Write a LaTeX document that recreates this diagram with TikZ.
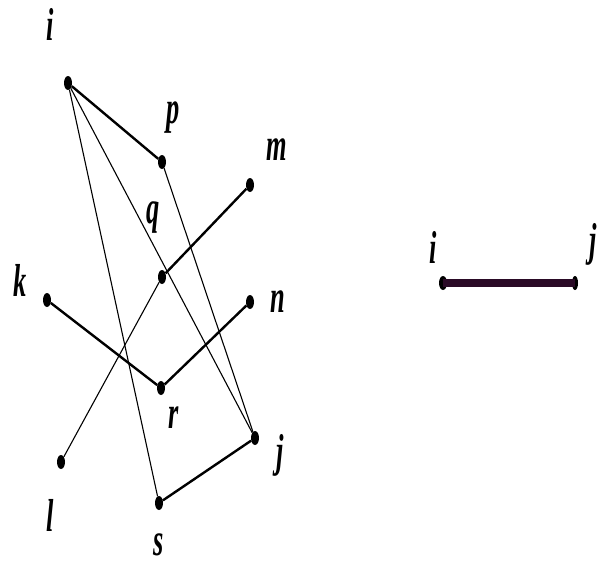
\documentclass[tikz,border=0pt]{standalone}
\usepackage{fontspec}
\setmainfont{Liberation Serif}
\usetikzlibrary{shapes.geometric}
\definecolor{edgepurple}{HTML}{2A0A26}
\tikzset{
  vdot/.style={ellipse,fill=black,draw=none,inner sep=0pt,minimum width=8pt,minimum height=14pt},
  lab/.style={inner sep=0pt,font=\fontsize{44}{44}\selectfont\bfseries\itshape},
  thickedge/.style={line width=2.4pt,black},
  thinedge/.style={line width=1.1pt,black},
  bigedge/.style={line width=8pt,edgepurple}
}
\newcommand{\cond}[1]{\scalebox{0.6}[1.05]{#1}}
\begin{document}
\begin{tikzpicture}[x=1pt,y=-1pt]
\useasboundingbox (0,0) rectangle (609,568);
% vertices
\node[vdot] (i) at (68,83) {};
\node[vdot] (p) at (162,162) {};
\node[vdot] (m) at (250,185) {};
\node[vdot] (q) at (162,277) {};
\node[vdot] (k) at (47,300) {};
\node[vdot] (n) at (250,302) {};
\node[vdot] (r) at (161,388) {};
\node[vdot] (j) at (255,438) {};
\node[vdot] (l) at (61,462) {};
\node[vdot] (s) at (159,503) {};
% labels
\node[lab] (li) at (50,24) {\cond{i}};
\node[lab] (lp) at (173,118) {\cond{p}};
\node[lab] (lm) at (277,150) {\cond{m}};
\node[lab] (lq) at (153,218) {\cond{q}};
\node[lab] (lk) at (20,280) {\cond{k}};
\node[lab] (ln) at (278,302) {\cond{n}};
\node[lab] (lr) at (174,418) {\cond{r}};
\node[lab] (lj) at (280,455) {\cond{j}};
\node[lab] (ll) at (50,515) {\cond{l}};
\node[lab] (ls) at (159,545) {\cond{s}};
% edges
\draw[thickedge] (i) -- (p);
\draw[thickedge] (q) -- (m);
\draw[thickedge] (k) -- (r);
\draw[thickedge] (r) -- (n);
\draw[thickedge] (s) -- (j);
\draw[thinedge] (i) -- (s);
\draw[thinedge] (i) -- (j);
\draw[thinedge] (p) -- (j);
\draw[thinedge] (q) -- (l);
% right part
\node[vdot] (ri) at (443,283) {};
\node[vdot,minimum width=6pt] (rj) at (575,283) {};
\draw[bigedge] (ri.center) -- (rj.center);
\node[lab] (lri) at (433,247) {\cond{i}};
\node[lab] (lrj) at (593,244) {\cond{j}};
\end{tikzpicture}
\end{document}
